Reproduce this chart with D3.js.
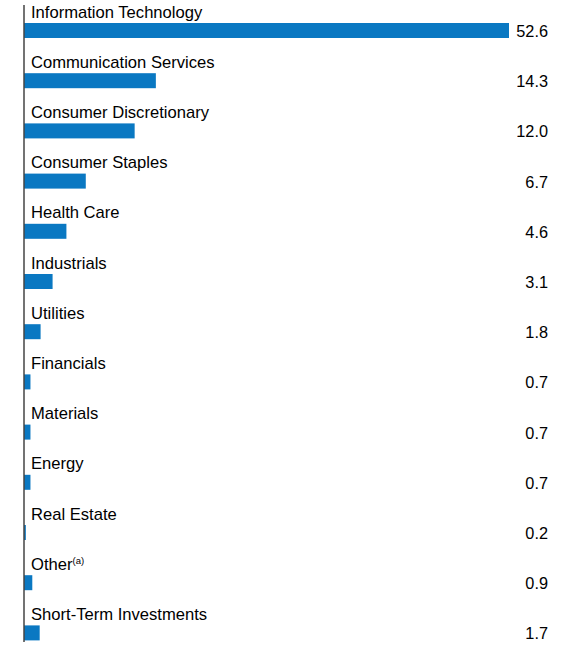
<!DOCTYPE html>
<html>
<head>
<meta charset="utf-8">
<script src="https://cdnjs.cloudflare.com/ajax/libs/d3/7.8.5/d3.min.js"></script>
<style>
  body { margin: 0; background: #fff; }
  text { font-family: "Liberation Sans", Arial, sans-serif; }
</style>
</head>
<body>
<svg width="573" height="648"></svg>
<script>
var sectors = ["Information Technology", "Communication Services", "Consumer Discretionary",
  "Consumer Staples", "Health Care", "Industrials", "Utilities", "Financials",
  "Materials", "Energy", "Real Estate", "Other", "Short-Term Investments"];
var weights = [52.6, 14.3, 12.0, 6.7, 4.6, 3.1, 1.8, 0.7, 0.7, 0.7, 0.2, 0.9, 1.7];
var notes = ["", "", "", "", "", "", "", "", "", "", "", "(a)", ""];

var svg = d3.select("svg");

var x = d3.scaleLinear().domain([0, 52.6]).range([24, 509]);
var y = d3.scaleBand().domain(sectors).range([0, 652.6]);

var rows = svg.selectAll(".row")
    .data(sectors)
    .enter().append("g")
    .attr("class", "row")
    .attr("transform", function(d) { return "translate(0," + y(d) + ")"; });

rows.append("rect")
    .attr("x", x(0))
    .attr("y", 23)
    .attr("height", 15)
    .attr("width", function(d, i) { return x(weights[i]) - x(0); })
    .attr("fill", "#0a78c2");

var label = rows.append("text")
    .attr("x", 31)
    .attr("y", 17.5)
    .attr("font-size", 16.6)
    .attr("fill", "#000")
    .text(function(d) { return d; });

label.filter(function(d, i) { return notes[i]; })
  .append("tspan")
    .attr("font-size", 9.5)
    .attr("dy", -6)
    .text(function(d) { return notes[sectors.indexOf(d)]; });

rows.append("text")
    .attr("x", 548)
    .attr("y", 37)
    .attr("font-size", 16.3)
    .attr("text-anchor", "end")
    .attr("fill", "#000")
    .text(function(d, i) { return weights[i].toFixed(1); });

// left axis line
svg.append("line")
    .attr("x1", x(0)).attr("x2", x(0))
    .attr("y1", 5).attr("y2", 642)
    .attr("stroke", "#444")
    .attr("stroke-width", 1.5);
</script>
</body>
</html>
